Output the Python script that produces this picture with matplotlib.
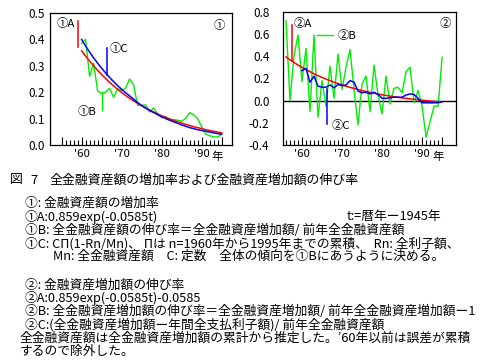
import matplotlib
matplotlib.use('Agg')
import matplotlib.pyplot as plt
from matplotlib.ticker import FixedLocator, FixedFormatter

plt.rcParams['font.family'] = ['Noto Sans CJK JP', 'DejaVu Sans']
plt.rcParams['axes.unicode_minus'] = False

# ---------------- data ----------------
years_1 = list(range(1960, 1996))
# ①A : 0.859exp(-0.0585t)
A1 = [0.357, 0.337, 0.318, 0.300, 0.283, 0.267, 0.252, 0.237, 0.224, 0.211,
      0.199, 0.188, 0.177, 0.167, 0.158, 0.149, 0.140, 0.132, 0.125, 0.118,
      0.111, 0.105, 0.099, 0.093, 0.088, 0.083, 0.078, 0.074, 0.069, 0.066,
      0.062, 0.058, 0.055, 0.052, 0.049, 0.046]
# ①B : growth rate of total financial assets
B1 = [0.385, 0.400, 0.260, 0.310, 0.205, 0.195, 0.200, 0.215, 0.181, 0.213,
      0.207, 0.215, 0.250, 0.228, 0.150, 0.150, 0.152, 0.125, 0.140, 0.118,
      0.103, 0.108, 0.094, 0.096, 0.094, 0.090, 0.100, 0.122, 0.115, 0.100,
      0.070, 0.042, 0.035, 0.031, 0.030, 0.040]
# ①C
C1 = [0.400, 0.375, 0.352, 0.330, 0.310, 0.291, 0.273, 0.256, 0.240, 0.225,
      0.211, 0.198, 0.186, 0.174, 0.161, 0.150, 0.140, 0.131, 0.123, 0.115,
      0.107, 0.100, 0.094, 0.088, 0.082, 0.076, 0.071, 0.066, 0.062, 0.058,
      0.055, 0.052, 0.049, 0.046, 0.043, 0.041]

years_2 = list(range(1956, 1996))
# ②A : 0.859exp(-0.0585t)-0.0585
A2 = [0.393, 0.367, 0.343, 0.320, 0.299, 0.279, 0.260, 0.241, 0.224, 0.208,
      0.193, 0.179, 0.165, 0.153, 0.141, 0.129, 0.119, 0.109, 0.099, 0.090,
      0.082, 0.074, 0.066, 0.059, 0.052, 0.046, 0.040, 0.035, 0.029, 0.024,
      0.020, 0.015, 0.011, 0.007, 0.003, -0.000, -0.004, -0.007, -0.010, -0.012]
# ②B : growth rate of financial asset increment
B2 = [0.72, 0.00, 0.40, 0.59, 0.17, 0.47, -0.10, 0.59, -0.15, 0.18,
      -0.05, 0.31, 0.02, 0.42, 0.10, 0.30, 0.46, 0.10, -0.22, 0.15,
      0.22, -0.10, 0.32, 0.05, -0.12, 0.22, -0.03, 0.11, 0.12, 0.07,
      0.26, 0.30, -0.02, 0.09, -0.05, -0.33, -0.19, -0.05, -0.05, 0.39]
years_2c = list(range(1960, 1996))
# ②C
C2 = [0.27, 0.29, 0.165, 0.22, 0.13, 0.12, 0.12, 0.14, 0.115, 0.145,
      0.135, 0.14, 0.18, 0.165, 0.085, 0.07, 0.075, 0.06, 0.075, 0.055,
      0.02, 0.02, 0.025, 0.03, 0.03, 0.03, 0.05, 0.06, 0.055, 0.02,
      -0.02, -0.02, -0.02, -0.02, -0.02, -0.01]

yt1 = [0.0, 0.1, 0.2, 0.3, 0.4, 0.5]
yt2 = [-0.4, -0.2, 0.0, 0.2, 0.4, 0.6, 0.8]

caption = "全金融資産額の増加率および金融資産増加額の伸び率"
notes1 = [
    "①: 金融資産額の増加率",
    "①A:0.859exp(-0.0585t)",
    "①B: 全金融資産額の伸び率＝全金融資産増加額/ 前年全金融資産額",
    "①C: CΠ(1-Rn/Mn)、 Πは n=1960年から1995年までの累積、  Rn: 全利子額、",
    "Mn: 全金融資産額　C: 定数　全体の傾向を①Bにあうように決める。",
]
notes2 = [
    "②: 金融資産増加額の伸び率",
    "②A:0.859exp(-0.0585t)-0.0585",
    "②B: 全金融資産増加額の伸び率＝全金融資産増加額/ 前年全金融資産増加額ー1",
    "②C:(全金融資産増加額ー年間全支払利子額)/ 前年全金融資産額",
    "全金融資産額は全金融資産増加額の累計から推定した。’60年以前は誤差が累積",
    "するので除外した。",
]

RED = '#ff0000'
BLUE = '#0000ff'
GREEN = '#00ee00'

W, H = 500, 360
fig = plt.figure(figsize=(5, 3.6), dpi=100)


def rect(x0, y0, x1, y1):
    return [x0 / W, 1 - y1 / H, (x1 - x0) / W, (y1 - y0) / H]


def fx(x):
    return x / W


def fy(y):
    return 1 - y / H


ax1 = fig.add_axes(rect(50, 13, 232, 145))
ax2 = fig.add_axes(rect(283.3, 11.7, 455.7, 145))

for ax in (ax1, ax2):
    for s in ax.spines.values():
        s.set_linewidth(0.9)
        s.set_color('black')
    ax.tick_params(axis='x', which='major', direction='in', length=6, width=0.8,
                   labelsize=8.2, pad=3)
    ax.tick_params(axis='x', which='minor', direction='in', length=3.5, width=0.8)
    ax.tick_params(axis='y', length=0, labelsize=8.5)

# ---- left panel ----
ax1.plot(years_1, B1, color=GREEN, lw=1.0)
ax1.plot(years_1, A1, color=RED, lw=1.1)
ax1.plot(years_1, C1, color=BLUE, lw=1.1)
ax1.set_xlim(1952.1, 1997.6)
ax1.set_ylim(0, 0.5)
ax1.xaxis.set_major_locator(FixedLocator(list(range(1955, 1996, 5))))
ax1.xaxis.set_major_formatter(FixedFormatter(
    ['', "'60", '', "'70", '', "'80", '', "'90", '']))
ax1.xaxis.set_minor_locator(FixedLocator(list(range(1955, 1996))))
ax1.set_yticks(yt1)
ax1.set_yticklabels([f"{v:.1f}" for v in yt1])
ax1.tick_params(axis='y', pad=4)

ax1.plot([1959.15, 1959.15], [0.37, 0.47], color=RED, lw=1.1)
ax1.plot([1966.3, 1966.3], [0.265, 0.366], color=BLUE, lw=1.1)
ax1.plot([1965.0, 1965.0], [0.131, 0.20], color=GREEN, lw=1.0)
ax1.text(1953.7, 0.461, "①A", fontsize=8.2, va='center', ha='left')
ax1.text(1967.1, 0.366, "①C", fontsize=8.2, va='center', ha='left')
ax1.text(1959.1, 0.127, "①B", fontsize=8.2, va='center', ha='left')
ax1.text(1992.9, 0.454, "①", fontsize=8.2, va='center', ha='left')

# ---- right panel ----
ax2.axhline(0, color='black', lw=1.0)
ax2.plot(years_2, B2, color=GREEN, lw=1.0)
ax2.plot(years_2, A2, color=RED, lw=1.1)
ax2.plot(years_2c, C2, color=BLUE, lw=1.1)
ax2.set_xlim(1955.33, 1998.4)
ax2.set_ylim(-0.4, 0.8)
ax2.xaxis.set_major_locator(FixedLocator(list(range(1960, 1996, 5))))
ax2.xaxis.set_major_formatter(FixedFormatter(
    ["'60", '', "'70", '', "'80", '', "'90", '']))
ax2.xaxis.set_minor_locator(FixedLocator(list(range(1956, 1996))))
ax2.set_yticks(yt2)
ax2.set_yticklabels([f"{v:.1f}" for v in yt2])
ax2.tick_params(axis='y', pad=10)

ax2.plot([1957.6, 1957.6], [0.36, 0.676], color=RED, lw=1.1)
ax2.plot([1963.7, 1967.8], [0.59, 0.59], color=GREEN, lw=1.0)
ax2.plot([1966.2, 1966.2], [0.105, -0.21], color=BLUE, lw=1.1)
ax2.text(1957.8, 0.696, "②A", fontsize=8.2, va='center', ha='left')
ax2.text(1968.8, 0.59, "②B", fontsize=8.2, va='center', ha='left')
ax2.text(1967.4, -0.225, "②C", fontsize=8.2, va='center', ha='left')
ax2.text(1994.3, 0.696, "②", fontsize=8.2, va='center', ha='left')

# "年" after '90
fig.text(fx(211), fy(156.5), "年", fontsize=8.2, va='center', ha='left')
fig.text(fx(432), fy(156.5), "年", fontsize=8.2, va='center', ha='left')

# ---- caption and notes ----
fig.text(fx(10), fy(180), "図", fontsize=9.3, va='center', ha='left')
fig.text(fx(30), fy(180), "7", fontsize=9.3, va='center', ha='left')
fig.text(fx(50), fy(180), caption, fontsize=9.3, va='center', ha='left')

ys1 = [203.3, 216.7, 230.0, 243.3, 256.6]
xs1 = [25, 25, 25, 25, 53]
for x, y, s in zip(xs1, ys1, notes1):
    fig.text(fx(x), fy(y), s, fontsize=9.2, va='center', ha='left')
fig.text(fx(346.7), fy(216.7), "t:=暦年ー1945年", fontsize=9.2, va='center', ha='left')

ys2 = [285.0, 298.3, 311.7, 325.0, 338.5, 351.7]
xs2 = [25, 25, 25, 25, 20, 20]
for x, y, s in zip(xs2, ys2, notes2):
    fig.text(fx(x), fy(y), s, fontsize=9.2, va='center', ha='left')

fig.savefig('out.png', dpi=100)
